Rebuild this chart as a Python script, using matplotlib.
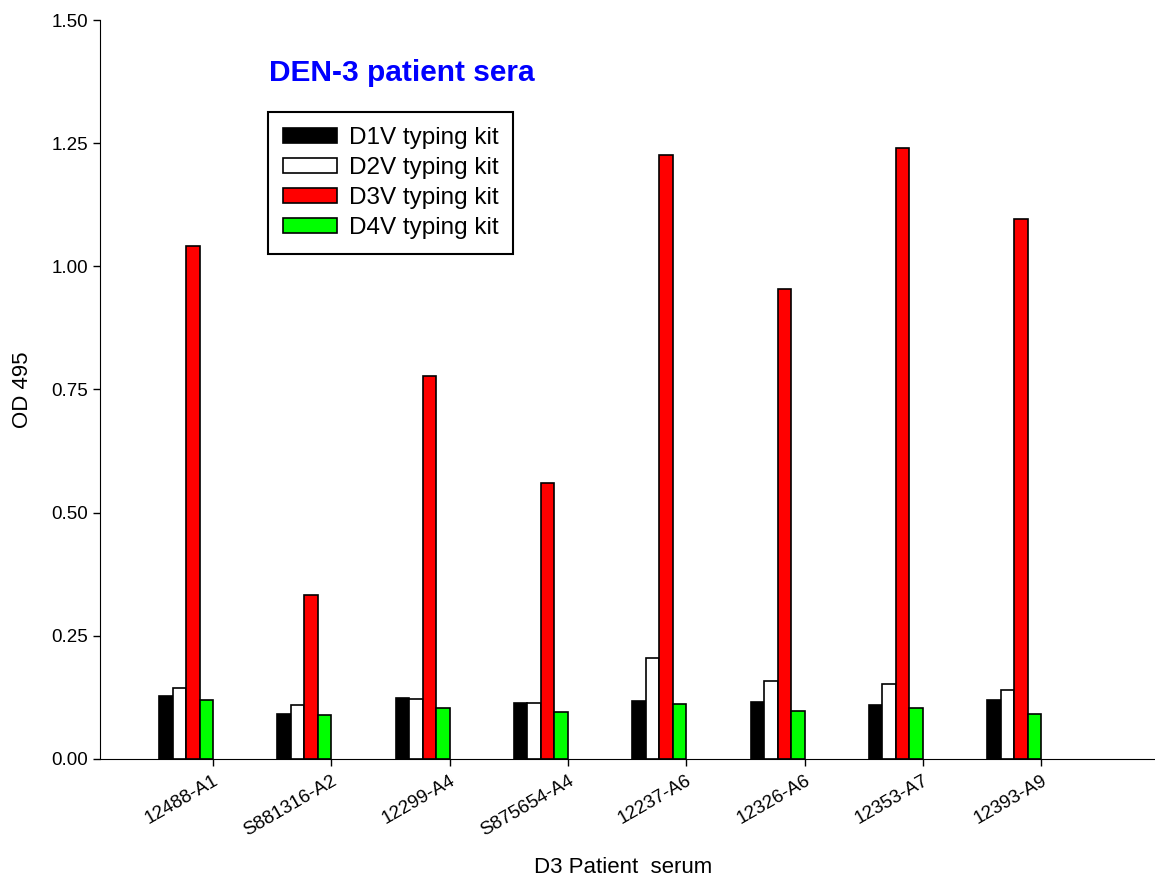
import numpy as np
import matplotlib
matplotlib.use("Agg")
import matplotlib.pyplot as plt
import matplotlib.transforms as mtransforms

plt.rcParams['font.family'] = ['Liberation Sans', 'DejaVu Sans']

patients = ["12488-A1", "S881316-A2", "12299-A4", "S875654-A4",
            "12237-A6", "12326-A6", "12353-A7", "12393-A9"]
d1v = [0.128, 0.091, 0.124, 0.114, 0.117, 0.116, 0.110, 0.120]
d2v = [0.145, 0.110, 0.122, 0.113, 0.204, 0.158, 0.153, 0.140]
d3v = [1.041, 0.333, 0.777, 0.560, 1.226, 0.954, 1.240, 1.096]
d4v = [0.119, 0.089, 0.104, 0.095, 0.111, 0.098, 0.104, 0.091]

series = [("D1V typing kit", d1v, "black"),
          ("D2V typing kit", d2v, "white"),
          ("D3V typing kit", d3v, "#ff0000"),
          ("D4V typing kit", d4v, "#00ff00")]

fig = plt.figure(figsize=(11.55, 8.82), dpi=100)
ax = fig.add_axes([0.0866, 0.1395, 0.9134, 0.8378])

x = np.arange(len(patients))
w = 0.114
for k, (name, vals, col) in enumerate(series):
    ax.bar(x + (k - 1.5) * w, vals, w, color=col, edgecolor="black",
           linewidth=1.2, label=name)

ax.set_xlim(-0.727, 8.19)
ax.set_ylim(0, 1.5)
yt = np.arange(0, 1.51, 0.25)
ax.set_yticks(yt)
ax.set_yticklabels(["%.2f" % v for v in yt], fontsize=13.5)
ax.set_xticks(x + 2 * w)
ax.set_xticklabels(patients, rotation=30, ha="right", va="top",
                   rotation_mode="anchor", fontsize=13.5)
shift = mtransforms.ScaledTranslation(5 / 72, 0, fig.dpi_scale_trans)
for lab in ax.get_xticklabels():
    lab.set_transform(lab.get_transform() + shift)
ax.tick_params(direction="out", length=5, width=1)
ax.tick_params(axis="x", pad=4.5)
ax.spines["top"].set_visible(False)
ax.spines["right"].set_visible(False)

ax.set_ylabel("OD 495", fontsize=16)
ax.yaxis.set_label_coords(-0.0635, 0.5)
ax.set_xlabel("D3 Patient  serum", fontsize=16)
ax.xaxis.set_label_coords(0.496, -0.1326)

fig.text(0.233, 0.917, "DEN-3 patient sera", color="#0000ff", fontsize=21.5,
         fontweight="bold", va="center", ha="left")

leg = ax.legend(loc="upper left", bbox_to_anchor=(0.232, 0.873),
                bbox_transform=fig.transFigure, borderaxespad=0,
                fontsize=17.5, frameon=True, fancybox=False,
                edgecolor="black", handlelength=2.2, handleheight=0.58,
                labelspacing=0.33, borderpad=0.62, handletextpad=0.5,
                framealpha=1)
leg.get_frame().set_linewidth(1.5)

fig.savefig("out.png", dpi=100)
